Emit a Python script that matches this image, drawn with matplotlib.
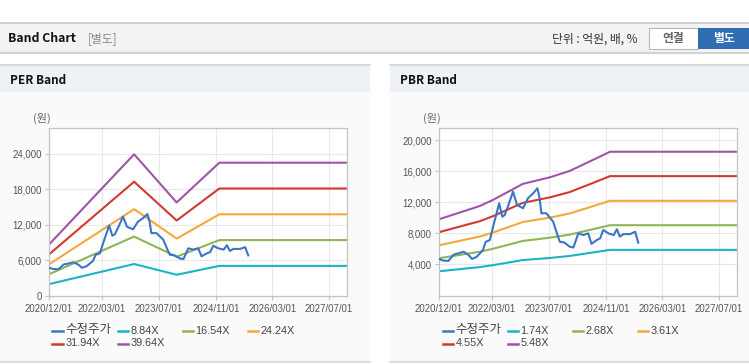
import pandas as pd
import matplotlib
matplotlib.use("Agg")
from matplotlib import pyplot as plt
from matplotlib.patches import Rectangle
from matplotlib.lines import Line2D

KR = ['Noto Sans CJK KR', 'DejaVu Sans']

# x tick dates shared by both charts
tick_dates = ['2020-12-01', '2022-03-01', '2023-07-01', '2024-11-01', '2026-03-01', '2027-07-01']
tick_labels = ['2020/12/01', '2022/03/01', '2023/07/01', '2024/11/01', '2026/03/01', '2027/07/01']

# adjusted close (수정주가)
price_dates = ['2020-12-01', '2021-01-05', '2021-02-20', '2021-04-05', '2021-07-01', '2021-08-12',
               '2021-09-10', '2021-10-20', '2021-12-13', '2022-01-05', '2022-02-10', '2022-03-10',
               '2022-05-01', '2022-05-28', '2022-06-18', '2022-07-15', '2022-08-28', '2022-10-01',
               '2022-11-22', '2023-01-03', '2023-02-18', '2023-03-25', '2023-04-13', '2023-04-28',
               '2023-06-10', '2023-08-07', '2023-09-18', '2023-10-04', '2023-11-10', '2023-12-28',
               '2024-01-28', '2024-03-10', '2024-04-22', '2024-06-03', '2024-07-01', '2024-08-15',
               '2024-09-13', '2024-10-10', '2024-11-22', '2025-01-07', '2025-02-04', '2025-03-01',
               '2025-04-01', '2025-05-28', '2025-07-10', '2025-08-06']
prices = [4700, 4500, 4450, 5250, 5630, 5200,
          4700, 4980, 5850, 6900, 7135, 8850,
          11870, 10140, 10360, 11430, 13370, 11650,
          11225, 12515, 13160, 13800, 12515, 10580,
          10580, 9500, 7560, 6900, 6830, 6270,
          6180, 8000, 7780, 8000, 6650, 7135,
          7350, 8430, 8000, 7780, 8520, 7570,
          7900, 7900, 8200, 6800]

# PER band: EPS basis
eps_dates = ['2020-12-01', '2022-12-01', '2023-12-01', '2024-12-01', '2027-12-01']
eps = [218, 604, 398, 568, 568]
per_multiples = [8.84, 16.54, 24.24, 31.94, 39.64]

# PBR band: BPS basis
bps_dates = ['2020-12-01', '2021-11-15', '2022-03-10', '2022-11-20', '2023-07-10',
             '2023-12-28', '2024-07-15', '2024-12-07', '2027-12-01']
bps = [1790, 2100, 2245, 2620, 2775, 2925, 3185, 3375, 3375]
pbr_multiples = [1.74, 2.68, 3.61, 4.55, 5.48]

price_color = '#3a76c6'
band_colors = ['#1db3c4', '#8fb656', '#f4a83c', '#d33a2f', '#9c57a3']

W, H = 749, 364


def rect(x0, y0, x1, y1):
    return [x0 / W, 1 - y1 / H, (x1 - x0) / W, (y1 - y0) / H]


def box(fig, x0, y0, x1, y1, fc, ec='none', lw=0):
    fig.add_artist(Rectangle((x0 / W, 1 - y1 / H), (x1 - x0) / W, (y1 - y0) / H,
                             transform=fig.transFigure, facecolor=fc, edgecolor=ec, lw=lw,
                             zorder=-5))


def hline(fig, x0, x1, y, color, lw=1, z=-4):
    fig.add_artist(Line2D([x0 / W, x1 / W], [1 - y / H, 1 - y / H], transform=fig.transFigure,
                          color=color, lw=lw, zorder=z))


def txt(fig, x, y, s, **kw):
    fig.text(x / W, 1 - y / H, s, va='center', **kw)


def draw_band(fig, x0, base_dates, base, multiples, ylim, yticks, title):
    pw = 370 if x0 == 0 else 359
    # panel background
    box(fig, x0, 92, x0 + pw, 362, '#fafafa')
    box(fig, x0, 64, x0 + pw, 92, '#eef1f6')
    hline(fig, x0, x0 + pw, 64.5, '#d6d6d6', 1.2)
    hline(fig, x0, x0 + pw, 362, '#d6d6d6', 1.2)
    txt(fig, x0 + 10, 80, title, family=KR, fontsize=8.5, fontweight='bold', color='#111')
    txt(fig, x0 + 33, 118, '(원)', family=KR, fontsize=8, color='#666')

    ax = fig.add_axes(rect(x0 + 49, 128, x0 + 347, 295.5))
    ax.set_facecolor('white')
    bd = pd.to_datetime(base_dates)
    for m, c in zip(multiples, band_colors):
        ax.plot(bd, [b * m for b in base], color=c, lw=1.5, zorder=2)
    ax.plot(pd.to_datetime(price_dates), prices, color=price_color, lw=1.5, zorder=3)

    ax.set_xlim(pd.Timestamp('2020-12-01'), pd.Timestamp('2027-12-01'))
    ax.set_ylim(*ylim)
    ax.set_xticks(pd.to_datetime(tick_dates))
    ax.set_xticklabels(tick_labels)
    ax.set_yticks(yticks)
    ax.set_yticklabels([f"{v:,}" for v in yticks])
    ax.grid(True, color='#e8e8e8', lw=0.8)
    ax.set_axisbelow(True)
    for s in ax.spines.values():
        s.set_color('#c4c4c4')
        s.set_linewidth(0.9)
    ax.tick_params(axis='both', colors='#c4c4c4', length=3, width=0.8, labelcolor='#555',
                   labelsize=6.9, pad=2)
    for lab in ax.get_xticklabels() + ax.get_yticklabels():
        lab.set_family('Liberation Sans')
    ax.tick_params(axis='x', pad=3)

    # legend
    labels = ['수정주가'] + [f"{m:.2f}X" for m in multiples]
    colors = [price_color] + band_colors
    for i, (lab, c) in enumerate(zip(labels, colors)):
        col, row = i % 4, i // 4
        lx = x0 + 52.5 + col * 65
        ly = 330.5 + row * 13
        hline(fig, lx, lx + 10.5, ly, c, 1.8, z=3)
        txt(fig, lx + 13, ly, lab, family=['Liberation Sans', 'Noto Sans CJK KR'],
            fontsize=7.8 if i else 9, color='#444')
    return ax


fig = plt.figure(figsize=(W / 100, H / 100), dpi=100)
fig.patch.set_facecolor('white')

# page header
box(fig, 0, 23, W, 52.5, '#f3f3f3')
hline(fig, 0, W, 22.5, '#c8c8c8', 1.2)
hline(fig, 0, W, 53, '#d2d2d2', 1.5)
txt(fig, 8, 39, 'Band Chart', family=KR, fontsize=8.8, fontweight='bold', color='#111')
txt(fig, 88, 39, '[별도]', family=KR, fontsize=8.5, color='#888')
txt(fig, 552, 39.5, '단위 : 억원, 배, %', family=KR, fontsize=8.5, color='#333')
box(fig, 649, 28, 698, 48.5, 'white', '#b8b8b8', 0.8)
txt(fig, 673.5, 38.5, '연결', family=KR, fontsize=8.5, fontweight='bold', color='#666', ha='center')
box(fig, 698, 28, 749, 48.5, '#2f6eb3')
txt(fig, 723.5, 38.5, '별도', family=KR, fontsize=8.5, fontweight='bold', color='white', ha='center')

draw_band(fig, 0, eps_dates, eps, per_multiples, (0, 28400),
          [0, 6000, 12000, 18000, 24000], 'PER Band')
draw_band(fig, 390, bps_dates, bps, pbr_multiples, (0, 21550),
          [4000, 8000, 12000, 16000, 20000], 'PBR Band')

plt.savefig('out.png', dpi=100)
